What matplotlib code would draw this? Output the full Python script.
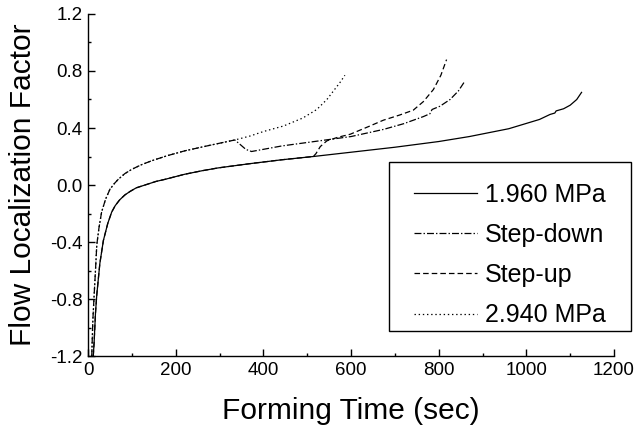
import matplotlib
matplotlib.use("Agg")
import matplotlib.pyplot as plt
from matplotlib.patches import Rectangle
from matplotlib.ticker import MultipleLocator, FormatStrFormatter

plt.rcParams['font.family'] = ['Liberation Sans', 'DejaVu Sans']
plt.rcParams['lines.scale_dashes'] = False

# 1.960 MPa (solid)
solid_t = [12, 14, 17, 20, 27, 35, 45, 54, 62, 72, 84, 96, 110, 130, 155, 176, 220,
           260, 297, 370, 442, 514, 600, 700, 800, 870, 960, 1030, 1054, 1065, 1068,
           1085, 1100, 1115, 1126]
solid_y = [-1.2, -1.1, -0.9, -0.77, -0.55, -0.39, -0.27, -0.19, -0.145, -0.105,
           -0.07, -0.045, -0.02, 0.0, 0.025, 0.04, 0.075, 0.1, 0.12, 0.15, 0.177,
           0.2, 0.23, 0.265, 0.305, 0.34, 0.395, 0.46, 0.495, 0.505, 0.52, 0.535,
           0.56, 0.6, 0.65]

# Step-up (dashed): follows the 1.960 curve, then jumps near 514 s
stepup_t = [12, 14, 17, 20, 27, 35, 45, 54, 62, 72, 84, 96, 110, 130, 155, 176, 220,
            260, 297, 370, 442, 514, 520, 530, 545, 570, 598, 640, 674, 710, 742,
            765, 788, 805, 818]
stepup_y = [-1.2, -1.1, -0.9, -0.77, -0.55, -0.39, -0.27, -0.19, -0.145, -0.105,
            -0.07, -0.045, -0.02, 0.0, 0.025, 0.04, 0.075, 0.1, 0.12, 0.15, 0.177,
            0.2, 0.22, 0.27, 0.31, 0.335, 0.356, 0.41, 0.455, 0.49, 0.525, 0.585,
            0.67, 0.77, 0.88]

# Step-down (dash-dot): follows the 2.940 curve, then drops near 335 s
stepdown_t = [8.5, 11, 14, 17, 20, 25, 31, 40, 50, 60, 69, 84, 100, 120, 145, 180,
              221, 280, 335, 345, 360, 373, 442, 552, 600, 674, 720, 765, 780, 785,
              803, 826, 845, 860]
stepdown_y = [-1.2, -0.95, -0.77, -0.6, -0.42, -0.3, -0.19, -0.1, -0.03, 0.01, 0.04,
              0.08, 0.11, 0.14, 0.17, 0.205, 0.24, 0.28, 0.316, 0.29, 0.25, 0.235,
              0.274, 0.32, 0.34, 0.39, 0.43, 0.48, 0.5, 0.53, 0.553, 0.6, 0.66, 0.73]

# 2.940 MPa (dotted)
high_t = [8.5, 11, 14, 17, 20, 25, 31, 40, 50, 60, 69, 84, 100, 120, 145, 180,
          221, 280, 335, 370, 400, 446, 490, 522, 545, 560, 575, 586]
high_y = [-1.2, -0.95, -0.77, -0.6, -0.42, -0.3, -0.19, -0.1, -0.03, 0.01, 0.04,
          0.08, 0.11, 0.14, 0.17, 0.205, 0.24, 0.28, 0.316, 0.344, 0.375, 0.414,
          0.47, 0.53, 0.6, 0.66, 0.72, 0.77]

W, H = 636, 428
fig = plt.figure(figsize=(W / 100, H / 100), dpi=100)
ax = fig.add_axes([0.1384, 0.1682, 0.8270, 0.7991])

lw = 0.9
ax.plot(solid_t, solid_y, color='black', lw=lw, label='1.960 MPa')
ax.plot(stepdown_t, stepdown_y, color='black', lw=lw, dashes=(5, 1.5, 1, 1.5), label='Step-down')
ax.plot(stepup_t, stepup_y, color='black', lw=lw, dashes=(4, 2.2), label='Step-up')
ax.plot(high_t, high_y, color='black', lw=lw, dashes=(1, 2), label='2.940 MPa')

ax.set_xlim(0, 1200)
ax.set_ylim(-1.2, 1.2)
ax.xaxis.set_major_locator(MultipleLocator(200))
ax.xaxis.set_minor_locator(MultipleLocator(100))
ax.yaxis.set_major_locator(MultipleLocator(0.4))
ax.yaxis.set_minor_locator(MultipleLocator(0.2))
ax.yaxis.set_major_formatter(FormatStrFormatter('%.1f'))

for s in ['top', 'right']:
    ax.spines[s].set_visible(False)
for s in ['left', 'bottom']:
    ax.spines[s].set_linewidth(1.0)

ax.tick_params(which='major', direction='in', length=4.8, width=1.0, labelsize=13.5, pad=4)
ax.tick_params(which='minor', direction='in', length=2.4, width=1.0)

ax.set_xlabel('Forming Time (sec)', fontsize=21.5, labelpad=13)
ax.set_ylabel('Flow Localization Factor', fontsize=21.5, labelpad=9)

# legend entries without frame, box drawn separately
leg = ax.legend(loc='upper left', bbox_to_anchor=(401 / W, 1 - 170 / H),
                bbox_transform=fig.transFigure, fontsize=18, frameon=False,
                handlelength=2.55, handletextpad=0.32, labelspacing=0.65,
                borderpad=0.5, borderaxespad=0)
fig.patches.append(Rectangle((389 / W, 1 - 331 / H), 242 / W, 169 / H,
                             transform=fig.transFigure, fill=True, facecolor='white',
                             edgecolor='black', lw=1.0, zorder=0.5))
ax.set_zorder(1)
ax.patch.set_alpha(0)

fig.savefig('out.png', dpi=100)
